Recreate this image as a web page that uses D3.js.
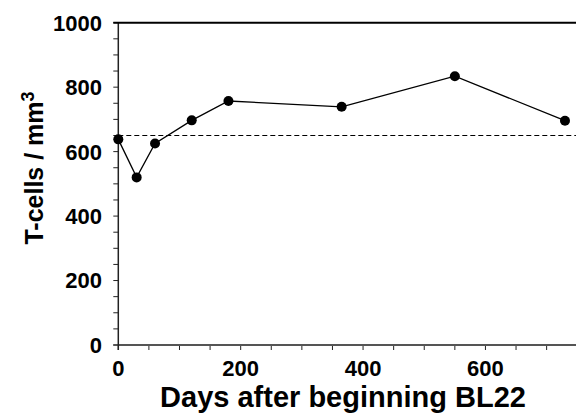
<!DOCTYPE html>
<html>
<head>
<meta charset="utf-8">
<script src="https://cdn.jsdelivr.net/npm/d3@7"></script>
<style>
  html, body { margin: 0; padding: 0; background: #fff; }
  svg { display: block; font-family: "Liberation Sans", Arial, sans-serif; }
</style>
</head>
<body>
<div id="chart"></div>
<script>
// --- data ---
const days = [0, 30, 60, 120, 180, 365, 550, 730];
const tcells = [638, 520, 625, 697, 757, 739, 834, 696];
const baseline = 650;
const xTicks = [0, 200, 400, 600];
const yTicks = [0, 200, 400, 600, 800, 1000];

const width = 576, height = 416;
const margin = { left: 118.3, right: 0, top: 22.7, bottom: 71 };

const svg = d3.select('#chart').append('svg')
  .attr('width', width)
  .attr('height', height);

const x = d3.scaleLinear()
  .domain([0, 748])
  .range([margin.left, width - margin.right]);
const y = d3.scaleLinear()
  .domain([0, 1000])
  .range([height - margin.bottom, margin.top]);

// minor ticks every 50
const xMinor = d3.range(0, 750, 50);
const yMinor = d3.range(0, 1001, 50);

svg.append('g')
  .selectAll('line')
  .data(xMinor)
  .enter().append('line')
  .attr('x1', d => x(d)).attr('x2', d => x(d))
  .attr('y1', y(0)).attr('y2', y(0) + 5)
  .attr('stroke', '#222').attr('stroke-width', 1);

svg.append('g')
  .selectAll('line')
  .data(yMinor)
  .enter().append('line')
  .attr('x1', x(0) - 5).attr('x2', x(0))
  .attr('y1', d => y(d)).attr('y2', d => y(d))
  .attr('stroke', '#222').attr('stroke-width', 1);

// axis lines
svg.append('line')
  .attr('x1', x(0) - 5).attr('x2', width)
  .attr('y1', y(0)).attr('y2', y(0))
  .attr('stroke', '#555').attr('stroke-width', 2);
svg.append('line')
  .attr('x1', x(0)).attr('x2', x(0))
  .attr('y1', y(1000)).attr('y2', y(0) + 5)
  .attr('stroke', '#222').attr('stroke-width', 1.5);
svg.append('line')
  .attr('x1', x(0) - 5).attr('x2', width)
  .attr('y1', y(1000)).attr('y2', y(1000))
  .attr('stroke', '#000').attr('stroke-width', 2);

// tick labels
svg.append('g')
  .selectAll('text')
  .data(xTicks)
  .enter().append('text')
  .attr('x', d => x(d))
  .attr('y', 376)
  .attr('text-anchor', 'middle')
  .attr('font-size', 22)
  .attr('font-weight', 'bold')
  .text(d => d);

svg.append('g')
  .selectAll('text')
  .data(yTicks)
  .enter().append('text')
  .attr('x', 102)
  .attr('y', d => y(d))
  .attr('dy', '0.36em')
  .attr('text-anchor', 'end')
  .attr('font-size', 22)
  .attr('font-weight', 'bold')
  .text(d => d);

// axis titles
svg.append('text')
  .attr('x', 343)
  .attr('y', 407)
  .attr('text-anchor', 'middle')
  .attr('font-size', 29)
  .attr('font-weight', 'bold')
  .text('Days after beginning BL22');

const yTitle = svg.append('text')
  .attr('transform', 'translate(43,168) rotate(-90)')
  .attr('text-anchor', 'middle')
  .attr('font-size', 25)
  .attr('font-weight', 'bold');
yTitle.append('tspan').text('T-cells / mm');
yTitle.append('tspan').attr('dy', -9).attr('font-size', 18).text('3');

// reference dashed line
svg.append('line')
  .attr('x1', x(0)).attr('x2', width)
  .attr('y1', y(baseline)).attr('y2', y(baseline))
  .attr('stroke', '#000').attr('stroke-width', 1)
  .attr('stroke-dasharray', '5,3');

// series
const points = days.map((d, i) => ({ day: d, value: tcells[i] }));
const line = d3.line().x(d => x(d.day)).y(d => y(d.value));

svg.append('path')
  .datum(points)
  .attr('d', line)
  .attr('fill', 'none')
  .attr('stroke', '#000')
  .attr('stroke-width', 1.3);

svg.append('g')
  .selectAll('circle')
  .data(points)
  .enter().append('circle')
  .attr('cx', d => x(d.day))
  .attr('cy', d => y(d.value))
  .attr('r', 5)
  .attr('fill', '#000');
</script>
</body>
</html>
